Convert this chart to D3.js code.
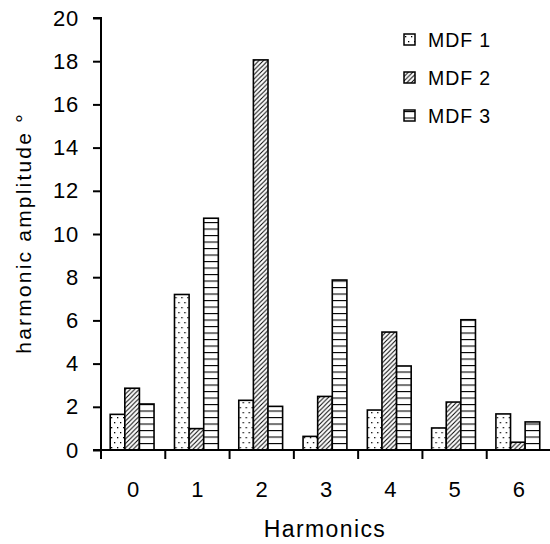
<!DOCTYPE html>
<html>
<head>
<meta charset="utf-8">
<script src="https://cdn.jsdelivr.net/npm/d3@7"></script>
<style>
  html, body { margin: 0; padding: 0; background: #fff; }
  svg { display: block; }
  text { font-family: "Liberation Sans", Arial, sans-serif; fill: #000; }
</style>
</head>
<body>
<svg id="chart" width="550" height="544"></svg>
<script>
const categories = ["0", "1", "2", "3", "4", "5", "6"];
const seriesNames = ["MDF 1", "MDF 2", "MDF 3"];
const mdf1 = [1.65, 7.2, 2.3, 0.63, 1.85, 1.02, 1.67];
const mdf2 = [2.86, 0.99, 18.06, 2.48, 5.46, 2.22, 0.36];
const mdf3 = [2.13, 10.73, 2.02, 7.87, 3.89, 6.03, 1.3];
const yTicks = [0, 2, 4, 6, 8, 10, 12, 14, 16, 18, 20];
const xTitle = "Harmonics";
const yTitle = "harmonic amplitude °";

(function () {
const seriesValues = [mdf1, mdf2, mdf3];
const patternIds = ["pDots", "pHatch", "pHoriz"];

const svg = d3.select("#chart");
const mLeft = 101, mRight = 551, mTop = 18, mBottom = 450;

const x0 = d3.scaleBand().domain(categories).range([mLeft, mRight]).padding(0);
const x1 = d3.scaleBand().domain(seriesNames).range([0, x0.bandwidth()])
  .paddingInner(0).paddingOuter(0.7).align(0.45);
const y = d3.scaleLinear().domain([0, 20]).range([mBottom, mTop]);

// patterns
const defs = svg.append("defs");
const pd = defs.append("pattern").attr("id", "pDots").attr("patternUnits", "userSpaceOnUse")
  .attr("width", 6).attr("height", 10);
pd.append("rect").attr("width", 6).attr("height", 10).attr("fill", "#fff");
pd.append("rect").attr("x", 1).attr("y", 2).attr("width", 1.3).attr("height", 1.3).attr("fill", "#000");
pd.append("rect").attr("x", 4).attr("y", 7).attr("width", 1.3).attr("height", 1.3).attr("fill", "#000");

const ph = defs.append("pattern").attr("id", "pHatch").attr("patternUnits", "userSpaceOnUse")
  .attr("width", 4.5).attr("height", 4.5);
ph.append("rect").attr("width", 4.5).attr("height", 4.5).attr("fill", "#fff");
ph.append("path").attr("d", "M-1,5.5 L5.5,-1 M-1,1 L1,-1 M3.5,5.5 L5.5,3.5")
  .attr("stroke", "#000").attr("stroke-width", 1);

const pz = defs.append("pattern").attr("id", "pHoriz").attr("patternUnits", "userSpaceOnUse")
  .attr("width", 10).attr("height", 6.5).attr("y", 1);
pz.append("rect").attr("width", 10).attr("height", 6.5).attr("fill", "#fff");
pz.append("line").attr("x1", 0).attr("x2", 10).attr("y1", 0.5).attr("y2", 0.5)
  .attr("stroke", "#000").attr("stroke-width", 1.2);

// bars
const groups = svg.append("g").selectAll("g").data(categories).join("g")
  .attr("transform", d => `translate(${x0(d)},0)`);
groups.selectAll("rect")
  .data((c, i) => seriesNames.map((s, j) => ({ s, j, v: seriesValues[j][i] })))
  .join("rect")
  .attr("x", d => x1(d.s))
  .attr("width", x1.bandwidth())
  .attr("y", d => y(d.v))
  .attr("height", d => y(0) - y(d.v))
  .attr("fill", d => `url(#${patternIds[d.j]})`)
  .attr("stroke", "#000").attr("stroke-width", 1.6);

// y axis
const yAxis = svg.append("g").attr("transform", `translate(${mLeft},0)`)
  .call(d3.axisLeft(y).tickValues(yTicks).tickSize(8).tickPadding(14).tickFormat(d3.format("d")));
yAxis.select(".domain").attr("stroke-width", 2).attr("d", `M-8,${mTop}H0V${mBottom}`);
yAxis.selectAll(".tick line").attr("stroke-width", 2);
yAxis.selectAll(".tick text").attr("font-size", 22).attr("font-family", "Liberation Sans, Arial, sans-serif")
  .attr("letter-spacing", 0.8);

// x axis
const xAxis = svg.append("g").attr("transform", `translate(0,${mBottom})`)
  .call(d3.axisBottom(x0).tickSize(0).tickPadding(31));
xAxis.select(".domain").remove();
xAxis.selectAll(".tick text").attr("font-size", 22).attr("font-family", "Liberation Sans, Arial, sans-serif");
xAxis.append("line").attr("x1", mLeft - 8).attr("x2", mRight).attr("y1", 0).attr("y2", 0)
  .attr("stroke", "#000").attr("stroke-width", 2);
xAxis.selectAll("line.bt").data(categories).join("line").attr("class", "bt")
  .attr("x1", d => x0(d)).attr("x2", d => x0(d)).attr("y1", 0).attr("y2", 9)
  .attr("stroke", "#000").attr("stroke-width", 2);

// titles
svg.append("text").attr("x", (mLeft + mRight) / 2 - 1).attr("y", 537)
  .attr("text-anchor", "middle").attr("font-size", 23).attr("letter-spacing", 1.4).text(xTitle);
svg.append("text").attr("transform", `translate(31,233) rotate(-90)`)
  .attr("text-anchor", "middle").attr("font-size", 21).attr("letter-spacing", 2.2).text(yTitle);

// legend
const legend = svg.append("g").selectAll("g").data(seriesNames).join("g")
  .attr("transform", (d, i) => `translate(404,${34 + i * 38})`);
legend.append("rect").attr("width", 11).attr("height", 11)
  .attr("fill", (d, i) => `url(#${patternIds[i]})`).attr("stroke", "#000").attr("stroke-width", 1.5);
legend.append("text").attr("x", 24).attr("y", 13).attr("font-size", 19.5).attr("letter-spacing", 0.9).text(d => d);
})();
</script>
</body>
</html>
